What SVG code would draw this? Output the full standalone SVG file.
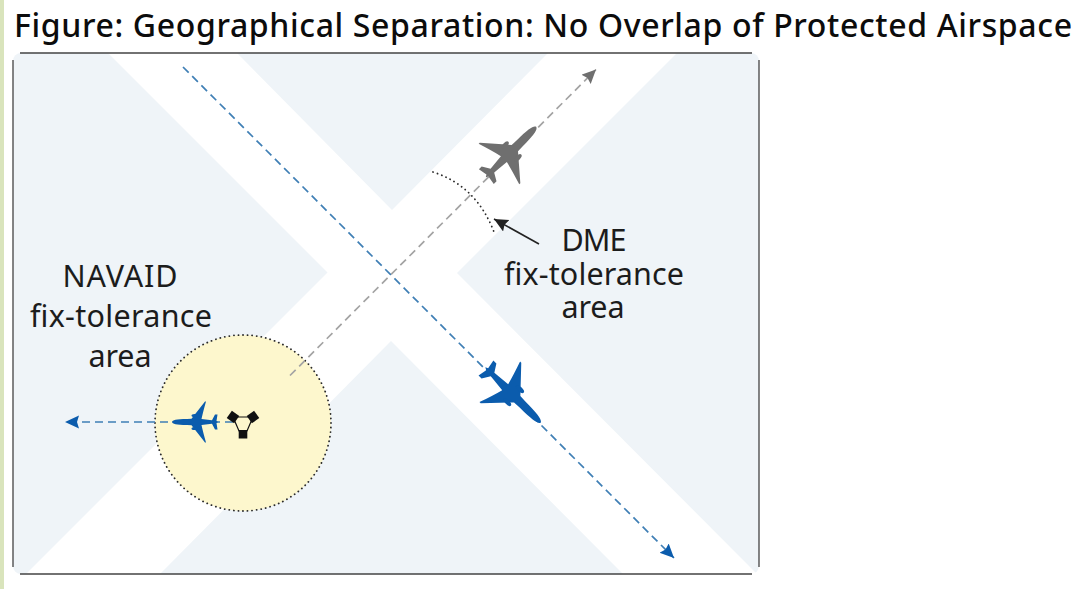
<svg xmlns="http://www.w3.org/2000/svg" width="1090" height="589" viewBox="0 0 1090 589">
<style>
text{font-family:"Noto Sans","Open Sans","DejaVu Sans",sans-serif;fill:#1c1c1c;font-size:30.5px;text-anchor:middle}
.title{font-size:32px;text-anchor:start;fill:#0c0c0c;font-weight:500}
.band{fill:#eff4f8}
.edge{stroke:#444;stroke-width:1.3;fill:none}
.dash{stroke-width:1.7;stroke-dasharray:8 5;fill:none}
.dot{stroke:#2a2a2a;stroke-width:1.8;stroke-dasharray:.1 4.5;stroke-linecap:round;fill:none}
</style>
<defs>
<clipPath id="panel"><rect x="13" y="53" width="746" height="521" rx="8"/></clipPath>
<g id="plane">
<path d="M23,0C22.500,-2 19,-3 8,-3L3.500,-3.200L-10,-20.500L-11,-20.500Q-8,-10 -6.500,-3L-17,-1.800L-20,-7.500L-22.500,-7.500L-21.500,-1L-23,0L-21.500,1L-22.500,7.500L-20,7.500L-17,1.800L-6.500,3Q-8,10 -11,20.500L-10,20.500L3.500,3.200L8,3C19,3 22.500,2 23,0Z"/>
<ellipse cx="0.500" cy="-6.500" rx="3" ry="1.600"/>
<ellipse cx="0.500" cy="6.500" rx="3" ry="1.600"/>
</g>
<marker id="hb" markerUnits="userSpaceOnUse" markerWidth="16" markerHeight="14" refX="14" refY="6.500" orient="auto"><path d="M0,0L14,6.500L0,13L2,6.500Z" fill="#0b5cad"/></marker>
<marker id="hg" markerUnits="userSpaceOnUse" markerWidth="16" markerHeight="14" refX="14" refY="6.500" orient="auto"><path d="M0,0L14,6.500L0,13L2,6.500Z" fill="#6f6f6f"/></marker>
<marker id="hk" markerUnits="userSpaceOnUse" markerWidth="16" markerHeight="14" refX="14" refY="6.500" orient="auto"><path d="M0,0L14,6.500L0,13L2,6.500Z" fill="#222"/></marker>
</defs>
<rect width="1090" height="589" fill="#fff"/>
<rect x="0" y="0" width="4" height="589" fill="#d9e4bc"/>
<text class="title" x="14" y="37" textLength="1058">Figure: Geographical Separation: No Overlap of Protected Airspace</text>
<g id="panel-background" clip-path="url(#panel)">
<polygon class="band" points="13,53 108,53 327.500,272.500 13,587"/>
<polygon class="band" points="237,53 392,210 548,53"/>
<polygon class="band" points="677,53 759,53 759,576 457,273"/>
<polygon class="band" points="160,574 391,341 623,574"/>
</g>
<g id="panel-border">
<path class="edge" d="M20,53H752M759,60V567M752,574H20M13,567V60"/>
</g>
<g id="navaid-area">
<circle cx="243" cy="423" r="88" fill="#fdf7cd"/>
<circle class="dot" cx="243" cy="423" r="88"/>
</g>
<g id="connectors">
<path class="dash" stroke="#3f7fb5" d="M183,67L674,558" marker-end="url(#hb)"/>
<path class="dash" stroke="#a3a3a3" d="M290,375.500L596,69.500" marker-end="url(#hg)"/>
<path class="dash" stroke="#3f7fb5" d="M233,422H65" marker-end="url(#hb)"/>
<path class="dot" d="M433,172Q476.500,186 494,232"/>
<path d="M539,244L494,219" stroke="#222" stroke-width="1.6" fill="none" marker-end="url(#hk)"/>
</g>
<g id="navaid-symbol">
<polygon points="233,417 253,417 247,431 239,431" fill="#fdf7cd" stroke="#111" stroke-width="1.2"/>
<rect x="228.500" y="412.500" width="9" height="9" fill="#111" transform="rotate(35 233 417)"/>
<rect x="248.500" y="412.500" width="9" height="9" fill="#111" transform="rotate(-35 253 417)"/>
<rect x="238.700" y="430" width="8.600" height="8.500" fill="#111"/>
</g>
<g id="plane-navaid"><use href="#plane" fill="#0b5cad" transform="translate(195 422) rotate(180)"/></g>
<g id="plane-blue"><use href="#plane" fill="#0b5cad" transform="translate(513 395) rotate(45) scale(1.7 1.4)"/></g>
<g id="plane-gray"><use href="#plane" fill="#6f6f6f" transform="translate(511 152) rotate(-45) scale(1.55 1.4)"/></g>
<g id="label-navaid">
<text x="120" y="287" textLength="115">NAVAID</text>
<text x="121" y="327" textLength="182">fix-tolerance</text>
<text x="120" y="367" textLength="63">area</text>
</g>
<g id="label-dme">
<text x="594" y="251" textLength="65">DME</text>
<text x="594" y="285" textLength="180">fix-tolerance</text>
<text x="593" y="318" textLength="63">area</text>
</g>
</svg>
